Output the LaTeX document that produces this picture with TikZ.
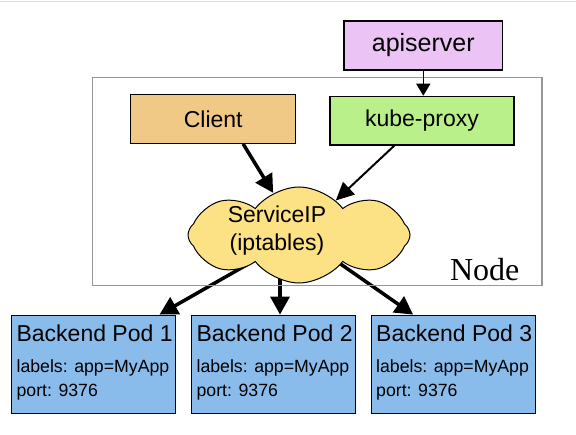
\documentclass[tikz,border=0pt]{standalone}
\usepackage{fontspec}
\setmainfont{Liberation Sans}
\newfontfamily\serifnode{Liberation Serif}
\usepackage{tikz}
\usetikzlibrary{shapes.symbols,arrows.meta,calc,backgrounds}
\definecolor{apifill}{RGB}{235,196,245}
\definecolor{clientfill}{RGB}{240,201,135}
\definecolor{proxyfill}{RGB}{186,240,138}
\definecolor{cloudfill}{RGB}{252,225,133}
\definecolor{podfill}{RGB}{137,187,235}
\definecolor{framegray}{RGB}{150,150,150}

\tikzset{
  box/.style={draw=black, line width=1.2pt, inner sep=0pt, font=\fontsize{23}{27}\selectfont},
  pod/.style={box, fill=podfill, minimum width=164pt, minimum height=98pt},
  podtitle/.style={inner sep=0pt, anchor=base west, font=\fontsize{23}{27}\selectfont},
  podtext/.style={inner sep=0pt, anchor=base west, font=\fontsize{17.7}{22}\selectfont},
  bigarrow/.style={line width=3.5pt, -{Triangle[length=18pt,width=19pt]}},
  midarrow/.style={line width=2pt, -{Triangle[length=18pt,width=17pt]}},
  thinarrow/.style={line width=1.3pt, -{Triangle[length=12pt,width=14pt]}},
}

\begin{document}
\begin{tikzpicture}[x=1pt,y=-1pt]
    \useasboundingbox (0,0) rectangle (576,435);
    \draw[black!13, line width=1pt] (0,1.5) -- (576,1.5);
    % Node frame
    \node[draw=framegray, line width=1.2pt, minimum width=449.3pt, minimum height=208pt, inner sep=0pt] (frame) at (317.3,181.3) {};
    \node[inner sep=0pt, anchor=base east, font=\serifnode\fontsize{32}{36}\selectfont] (nodelabel) at ($(frame.south east)+(-23,-5)$) {Node};
    % Boxes
    \node[box, fill=apifill, minimum width=158.7pt, minimum height=49pt, font=\fontsize{25}{29}\selectfont] (api) at (423.3,45.5) {apiserver};
    \node[box, fill=clientfill, minimum width=165pt, minimum height=49pt] (client) at (213.2,118.8) {Client};
    \node[box, fill=proxyfill, minimum width=184pt, minimum height=48.7pt] (proxy) at (422,120.7) {kube-proxy};
    % Service cloud
    \node[cloud, cloud puffs=8, cloud puff arc=105, aspect=2.3, draw=black, line width=1pt, fill=cloudfill, minimum width=222pt, minimum height=96pt, inner sep=0pt] (svc) at (299,235) {};
    \node[align=center, inner sep=0pt, font=\fontsize{23}{28}\selectfont] (svctext) at (277,231) {ServiceIP\\(iptables)};
    % Backend pods
    \foreach \i/\px in {1/93.7,2/273.7,3/453.3} {
        \node[pod] (pod\i) at (\px,364.2) {};
        \node[podtitle] (pod\i-title) at ($(pod\i.north west)+(5.3,26.7)$) {Backend Pod \i};
        \node[podtext] (pod\i-labels) at ($(pod\i.north west)+(5.3,58)$) {labels: app=MyApp};
        \node[podtext] (pod\i-port) at ($(pod\i.north west)+(5.3,82)$) {port: 9376};
    }
    \coordinate (pod2in) at ($(pod2.north)+(6.3,0)$);
    % Connectors
    \draw[thinarrow] (api.south) -- (api.south |- proxy.north);
    \draw[bigarrow] (client.-40) -- (svc);
    \draw[midarrow] (proxy.-138) -- (svc);
    \begin{scope}[on background layer]
        \draw[bigarrow] (svc.center) -- (pod1.37);
        \draw[bigarrow] (svc.center -| pod2in) -- (pod2in);
        \draw[bigarrow] (svc.center) -- (pod3.129.5);
    \end{scope}
\end{tikzpicture}
\end{document}
